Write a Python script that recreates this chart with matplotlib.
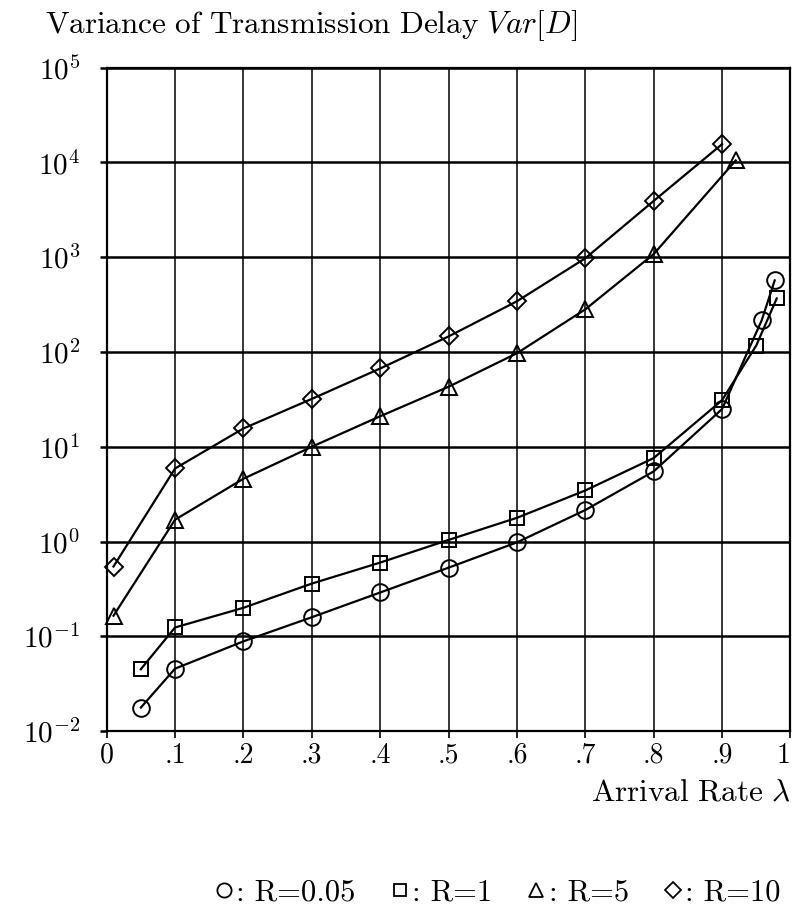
import matplotlib
matplotlib.use("Agg")
import matplotlib.pyplot as plt
from matplotlib.lines import Line2D
from matplotlib.ticker import FixedLocator, NullLocator

plt.rcParams['mathtext.fontset'] = 'cm'
plt.rcParams['font.family'] = 'serif'
plt.rcParams['font.serif'] = ['cmr10', 'DejaVu Serif']
plt.rcParams['axes.formatter.use_mathtext'] = True

# data
x_r005 = [0.05, 0.1, 0.2, 0.3, 0.4, 0.5, 0.6, 0.7, 0.8, 0.9, 0.958, 0.977]
v_r005 = [0.0177, 0.0456, 0.0885, 0.159, 0.29, 0.53, 0.98, 2.15, 5.5, 25, 216, 570]

x_r1 = [0.05, 0.1, 0.2, 0.3, 0.4, 0.5, 0.6, 0.7, 0.8, 0.9, 0.95, 0.98]
v_r1 = [0.045, 0.124, 0.2, 0.36, 0.6, 1.04, 1.78, 3.46, 7.6, 31, 117, 368]

x_r5 = [0.01, 0.1, 0.2, 0.3, 0.4, 0.5, 0.6, 0.7, 0.8, 0.92]
v_r5 = [0.165, 1.7, 4.6, 10, 21, 43, 97, 282, 1080, 10500]

x_r10 = [0.01, 0.1, 0.2, 0.3, 0.4, 0.5, 0.6, 0.7, 0.8, 0.9]
v_r10 = [0.545, 5.9, 15.6, 32, 67, 146, 343, 975, 3930, 15600]

x_ticks = [0, .1, .2, .3, .4, .5, .6, .7, .8, .9, 1]
x_ticklabels = ['0', '.1', '.2', '.3', '.4', '.5', '.6', '.7', '.8', '.9', '1']
y_ticks = [1e-2, 1e-1, 1e0, 1e1, 1e2, 1e3, 1e4, 1e5]
y_ticklabels = [r'$10^{%d}$' % e for e in range(-2, 6)]

series = [
    (x_r005, v_r005, 'o', 12, 'R=0.05'),
    (x_r1, v_r1, 's', 10, 'R=1'),
    (x_r5, v_r5, '^', 12, 'R=5'),
    (x_r10, v_r10, 'D', 9, 'R=10'),
]

fig = plt.figure(figsize=(7.96, 9.15), dpi=100)
ax = fig.add_axes([0.134, 0.201, 0.859, 0.725])

ax.set_yscale('log')
ax.set_xlim(0, 1)
ax.set_ylim(1e-2, 1e5)

ax.yaxis.set_major_locator(FixedLocator(y_ticks))
ax.yaxis.set_minor_locator(NullLocator())
ax.set_yticklabels(y_ticklabels, fontsize=21)
ax.set_xticks(x_ticks)
ax.set_xticklabels(x_ticklabels, fontsize=20)
ax.xaxis.set_minor_locator(NullLocator())
ax.get_xticklabels()[-1].set_horizontalalignment('right')

ax.tick_params(axis='x', direction='out', length=5, width=1.2, pad=3)
ax.tick_params(axis='y', direction='out', length=5, width=1.8, pad=14)

for yv in y_ticks:
    ax.axhline(yv, color='black', lw=1.8, zorder=1)
for xv in x_ticks:
    ax.axvline(xv, color='black', lw=1.1, zorder=1)
for sp in ax.spines.values():
    sp.set_linewidth(1.6)

handles = []
labels = []
for xs, vs, mk, ms, lab in series:
    ax.plot(xs, vs, color='black', lw=1.6, marker=mk, markersize=ms,
            markerfacecolor='none', markeredgecolor='black',
            markeredgewidth=1.4, zorder=3, clip_on=False)
    handles.append(Line2D([], [], ls='none', marker=mk, markersize=ms * 0.85,
                          markerfacecolor='none', markeredgecolor='black',
                          markeredgewidth=1.3))
    labels.append(': ' + lab)

fig.text(0.057, 0.972, r'$\mathrm{Variance\ of\ Transmission\ Delay}\ Var[D]$',
         fontsize=22.5, ha='left', va='center')
fig.text(0.993, 0.134, r'$\mathrm{Arrival\ Rate}\ \lambda$',
         fontsize=22.5, ha='right', va='center')

fig.legend(handles, labels, loc='center right', bbox_to_anchor=(1.0, 0.024),
           ncol=4, frameon=False, fontsize=22, handlelength=0.5,
           handletextpad=0.15, columnspacing=1.2, borderaxespad=0.1)

fig.savefig('out.png', dpi=100)
